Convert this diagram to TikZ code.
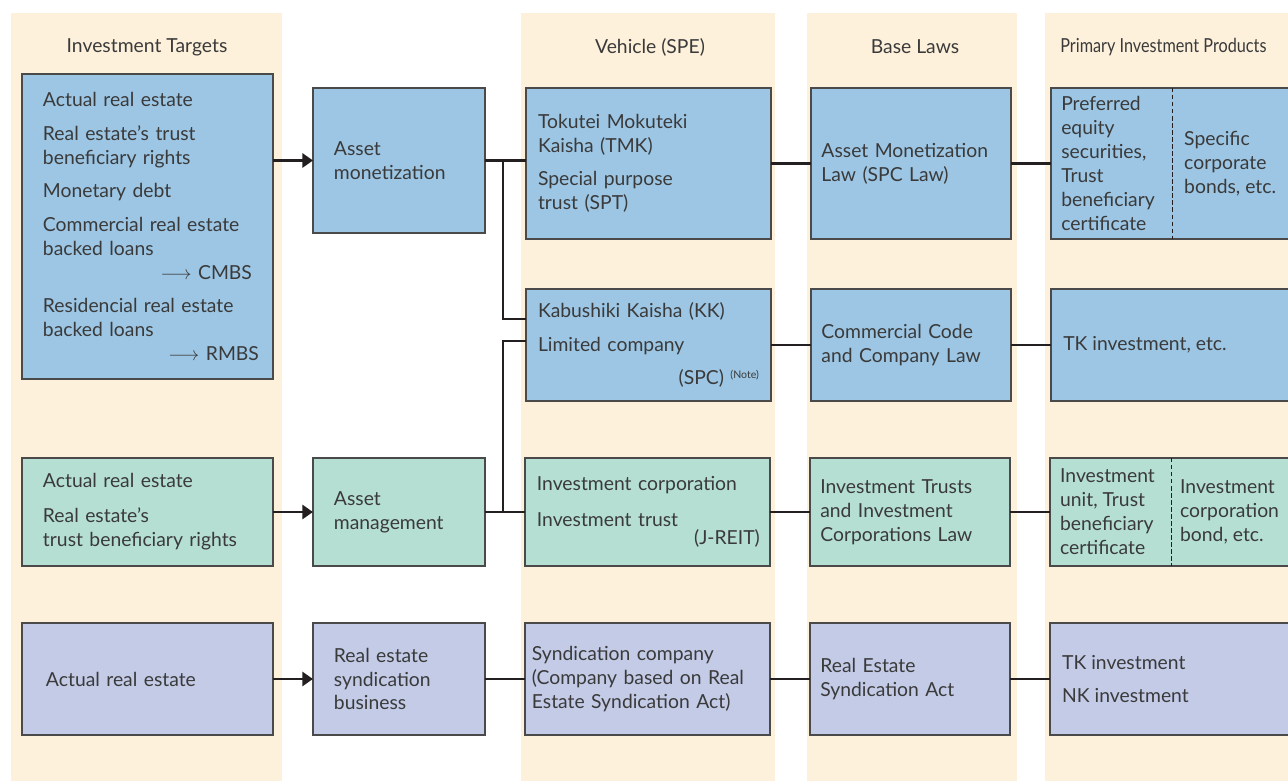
\documentclass[tikz,border=0pt]{standalone}
\usepackage{fontspec}
\setmainfont{Lato}
\usetikzlibrary{arrows.meta,positioning}
\definecolor{band}{HTML}{FEF1DC}
\definecolor{boxBlue}{HTML}{9CC6E4}
\definecolor{boxGreen}{HTML}{B5DFD3}
\definecolor{boxLilac}{HTML}{C3CBE7}
\definecolor{edge}{HTML}{4A4A4A}
\definecolor{ink}{HTML}{3A3A3A}
\definecolor{wire}{HTML}{231F20}
\newcommand{\pushright}{\hspace*{0pt plus 1filll}}
\newcommand{\fnote}[1]{\raisebox{0.6ex}{\fontsize{6pt}{7pt}\selectfont #1}}

\begin{document}
\begin{tikzpicture}[
  x=0.02cm, y=-0.02cm,
  node distance=0.8cm,
  font=\fontsize{11pt}{13.6pt}\selectfont,
  box/.style={draw=edge, line width=0.8pt, text=ink, align=left, inner ysep=0pt, outer sep=0pt},
  target/.style={box, text width=4.18cm, inner xsep=0.42cm},
  action/.style={box, text width=2.6cm, inner xsep=0.42cm},
  vehicle/.style={box, text width=4.42cm, inner xsep=0.24cm},
  law/.style={box, text width=3.58cm, inner xsep=0.21cm},
  product/.style={box, minimum width=5.2cm},
  plain/.style={text=ink, align=left, inner sep=0pt, anchor=west},
  head/.style={text=ink},
  blueRow/.style={fill=boxBlue},
  greenRow/.style={fill=boxGreen},
  lilacRow/.style={fill=boxLilac},
  arrow/.style={-{Triangle[length=6pt,width=8pt]}, line width=1.4pt, draw=wire},
  link/.style={line width=1.4pt, draw=wire},
  divider/.style={draw=wire, line width=0.6pt, dash pattern=on 2.5pt off 1.5pt}
]
\useasboundingbox (0,0) rectangle (1288,781);
\clip (0,0) rectangle (1288,781);

% column bands
\fill[band] (11,13) rectangle (282,781);
\fill[band] (521,13) rectangle (775,781);
\fill[band] (807,13) rectangle (1017,781);
\fill[band] (1045,13) rectangle (1300,781);

% headers
\node[head] (hTargets) at (147,47) {Investment Targets};
\node[head] (hVehicle) at (650,47) {Vehicle (SPE)};
\node[head] (hLaws) at (915,47) {Base Laws};
\node[head, anchor=west, inner xsep=0pt] (hProducts) at (1060,47) {\scalebox{0.84}[1]{Primary Investment Products}};

% row 1: asset monetization
\node[target, blueRow, minimum height=6.1cm, anchor=north west] (tgtA) at (22,74)
  {Actual real estate\\[5.5pt]
   Real estate’s trust\\beneficiary rights\\[5.5pt]
   Monetary debt\\[5.5pt]
   Commercial real estate\\backed loans\\
   \pushright$\longrightarrow$ CMBS\hspace*{-0.14cm}\\[5.5pt]
   Residencial real estate\\backed loans\\
   \pushright$\longrightarrow$ RMBS\hspace*{-0.14cm}};
\node[action, blueRow, minimum height=2.9cm, anchor=north west] (monet) at (313,88) {Asset\\monetization};
\node[vehicle, blueRow, minimum height=3.02cm, anchor=north west] (tmk) at (526,88)
  {Tokutei Mokuteki\\Kaisha (TMK)\\[5pt]Special purpose\\trust (SPT)};
\node[law, blueRow, minimum height=3.02cm, right=of tmk] (aml) {Asset Monetization\\Law (SPC Law)};
\node[product, blueRow, minimum height=3.02cm, right=of aml] (prodA) {};
\node[plain] (prodAl) at ([xshift=0.2cm]prodA.west) {Preferred\\equity\\securities,\\Trust\\beneficiary\\certificate};
\node[plain] (prodAr) at ([xshift=2.66cm]prodA.west) {Specific\\corporate\\bonds, etc.};
\draw[divider] ([xshift=2.44cm]prodA.north west) -- ([xshift=2.44cm]prodA.south west);

% row 2: KK
\node[vehicle, blueRow, minimum height=2.24cm, anchor=north west] (kk) at (526,289)
  {Kabushiki Kaisha (KK)\\[5.5pt]Limited company\\[5.5pt]\pushright(SPC)~\fnote{(Note)}};
\node[law, blueRow, minimum height=2.24cm, right=of kk] (ccl) {Commercial Code\\and Company Law};
\node[product, blueRow, minimum height=2.24cm, right=of ccl] (prodB) {};
\node[plain] (prodBt) at ([xshift=0.24cm]prodB.west) {TK investment, etc.};

% row 3: asset management
\node[target, greenRow, minimum height=2.16cm, anchor=north west] (tgtB) at (22,458)
  {Actual real estate\\[6.3pt]Real estate’s\\trust beneficiary rights};
\node[action, greenRow, minimum height=2.16cm, right=of tgtB] (mgmt) {Asset\\management};
\node[vehicle, greenRow, minimum height=2.16cm, right=of mgmt] (inv)
  {Investment corporation\\[6.8pt]Investment trust\\[-3.4pt]\pushright(J-REIT)\hspace*{-0.04cm}};
\node[law, greenRow, minimum height=2.16cm, right=of inv] (itl) {Investment Trusts\\and Investment\\Corporations Law};
\node[product, greenRow, minimum height=2.16cm, right=of itl] (prodC) {};
\node[plain] (prodCl) at ([xshift=0.2cm]prodC.west) {Investment\\unit, Trust\\beneficiary\\certificate};
\node[plain] (prodCr) at ([xshift=2.6cm]prodC.west) {Investment\\corporation\\bond, etc.};
\draw[divider] ([xshift=2.44cm]prodC.north west) -- ([xshift=2.44cm]prodC.south west);

% row 4: syndication
\node[target, lilacRow, minimum height=2.24cm, anchor=north west] (tgtC) at (22,623)
  {\hspace*{0.06cm}Actual real estate};
\node[action, lilacRow, minimum height=2.24cm, right=of tgtC] (synd) {Real estate\\syndication\\business};
\node[vehicle, lilacRow, minimum height=2.24cm, text width=4.62cm, inner xsep=0.14cm, right=of synd] (syndco)
  {Syndication company\\(Company based on Real\\Estate Syndication Act)};
\node[law, lilacRow, minimum height=2.24cm, right=of syndco] (rsa) {Real Estate\\Syndication Act};
\node[product, lilacRow, minimum height=2.24cm, right=of rsa] (prodD) {};
\node[plain] (prodDt) at ([xshift=0.24cm]prodD.west) {TK investment\\[5.5pt]NK investment};

% connectors
\coordinate (fork) at (503,0);
\draw[arrow] (tgtA.east |- monet.west) -- (monet.west);
\draw[arrow] (tgtB) -- (mgmt);
\draw[arrow] (tgtC) -- (synd);
\draw[link] (monet.east) -- (monet.east -| tmk.west);
\draw[link] (fork |- monet.east) |- ([yshift=0.52cm]kk.west);
\draw[link] (mgmt) -- (inv);
\draw[link] (fork |- mgmt.east) |- ([yshift=0.08cm]kk.west);
\draw[link] (synd) -- (syndco);
\draw[link] (tmk) -- (aml);
\draw[link] (aml) -- (prodA);
\draw[link] (kk) -- (ccl);
\draw[link] (ccl) -- (prodB);
\draw[link] (inv) -- (itl);
\draw[link] (itl) -- (prodC);
\draw[link] (syndco) -- (rsa);
\draw[link] (rsa) -- (prodD);
\end{tikzpicture}
\end{document}
